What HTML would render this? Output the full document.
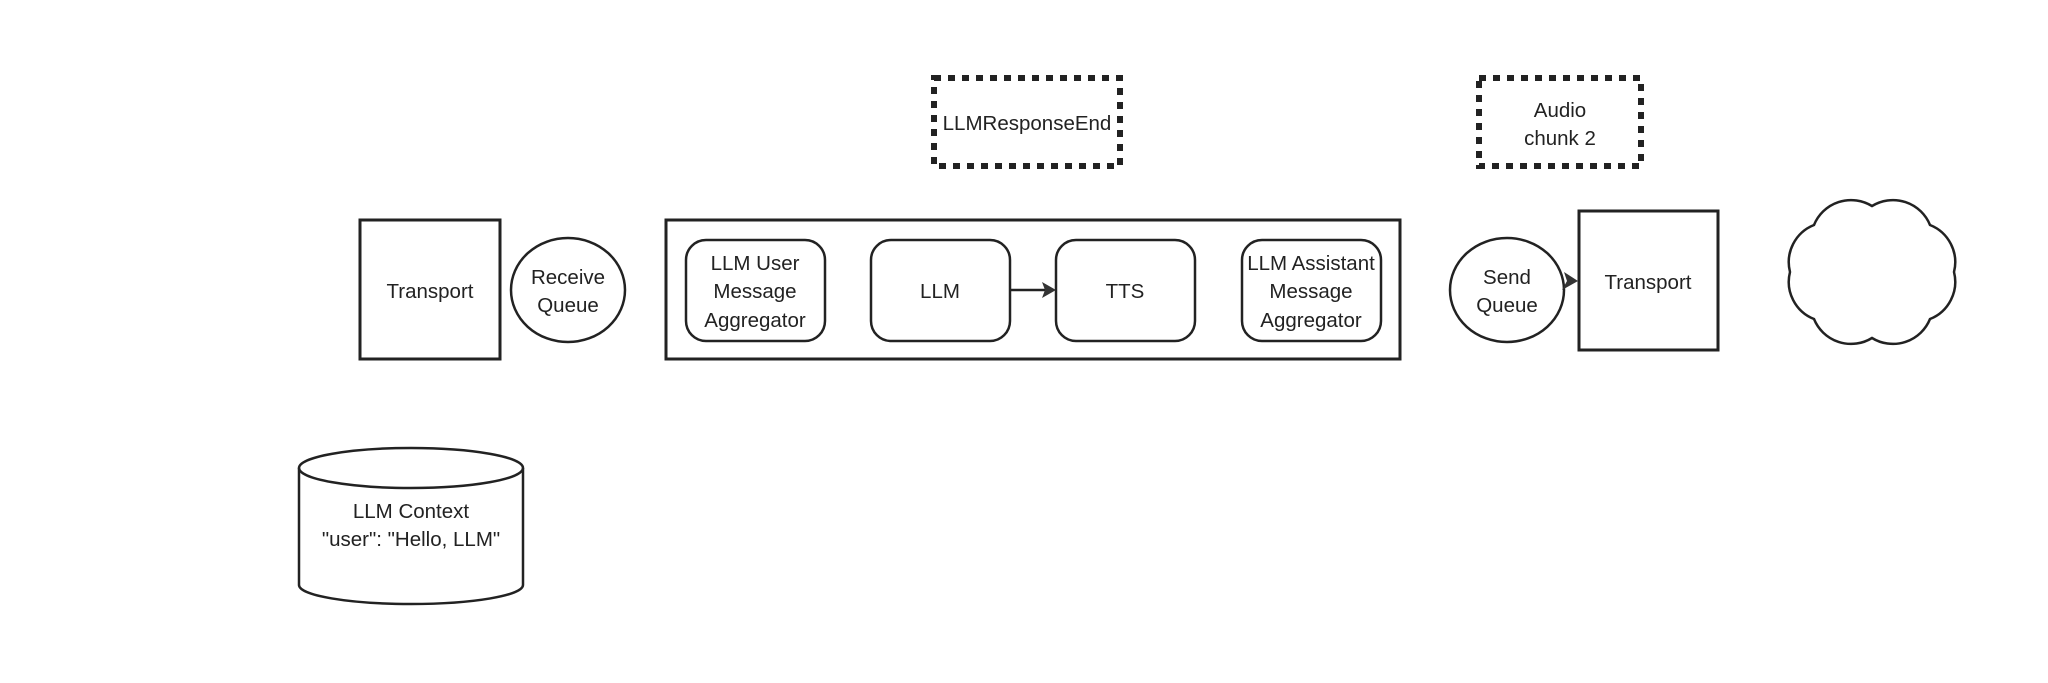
<!DOCTYPE html>
<html><head><meta charset="utf-8"><style>
html,body{margin:0;padding:0;background:#fff}
svg{display:block}
text{font-family:"Liberation Sans",sans-serif;font-size:20.5px;fill:#222;text-anchor:middle}
</style></head><body>
<svg width="2048" height="683" viewBox="0 0 2048 683" xmlns="http://www.w3.org/2000/svg">
<g fill="none" stroke="#222">
<rect x="934" y="78" width="186" height="88" stroke-width="6" stroke-dasharray="7 7"/>
<rect x="1479" y="78" width="162" height="88" stroke-width="6" stroke-dasharray="7 7"/>
<rect x="360" y="220" width="140" height="139" stroke-width="3"/>
<ellipse cx="568" cy="290" rx="57" ry="52" stroke-width="2.5"/>
<rect x="666" y="220" width="734" height="139" stroke-width="3"/>
<rect x="686" y="240" width="139" height="101" rx="20" stroke-width="2.5"/>
<rect x="871" y="240" width="139" height="101" rx="20" stroke-width="2.5"/>
<rect x="1056" y="240" width="139" height="101" rx="20" stroke-width="2.5"/>
<rect x="1242" y="240" width="139" height="101" rx="20" stroke-width="2.5"/>
<line x1="1011" y1="290" x2="1046" y2="290" stroke-width="2.5"/>
<ellipse cx="1507" cy="290" rx="57" ry="52" stroke-width="2.5"/>
<rect x="1579" y="211" width="139" height="139" stroke-width="3"/>
<path d="M1954 272 A40 40 0 0 0 1930 225 A40 40 0 0 0 1872 206 A40 40 0 0 0 1814 225 A40 40 0 0 0 1790 272 A40 40 0 0 0 1814 319 A40 40 0 0 0 1872 338 A40 40 0 0 0 1930 319 A40 40 0 0 0 1954 272 Z" stroke-width="2.5"/>
<path d="M299 468 L299 585 A112 19 0 0 0 523 585 L523 468" stroke-width="2.5"/>
<ellipse cx="411" cy="468" rx="112" ry="20" stroke-width="2.5"/>
</g>
<polygon points="1056,290 1042,282 1045,290 1042,298" fill="#333"/>
<polygon points="1578,281 1564,272 1567,281 1562,290" fill="#333"/>
<text x="430" y="298">Transport</text>
<text x="568" y="284">Receive</text><text x="568" y="312">Queue</text>
<text x="1027" y="130">LLMResponseEnd</text>
<text x="1560" y="117">Audio</text><text x="1560" y="145">chunk 2</text>
<text x="755" y="270">LLM User</text><text x="755" y="298">Message</text><text x="755" y="327">Aggregator</text>
<text x="940" y="298">LLM</text>
<text x="1125" y="298">TTS</text>
<text x="1311" y="270">LLM Assistant</text><text x="1311" y="298">Message</text><text x="1311" y="327">Aggregator</text>
<text x="1507" y="284">Send</text><text x="1507" y="312">Queue</text>
<text x="1648" y="289">Transport</text>
<text x="411" y="518">LLM Context</text>
<text x="411" y="546">"user": "Hello, LLM"</text>
</svg>
</body></html>
